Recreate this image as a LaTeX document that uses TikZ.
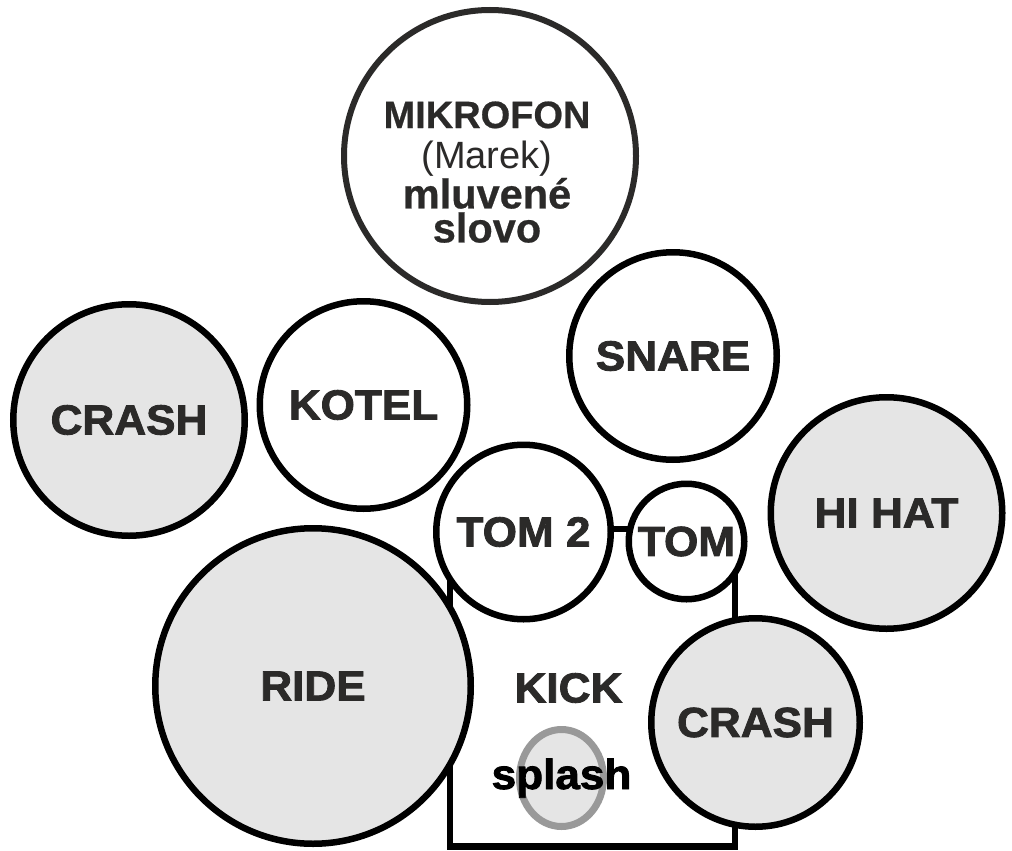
\documentclass[tikz,border=0pt]{standalone}
\usepackage{fontspec}
\usetikzlibrary{shapes.geometric}
\setmainfont{Liberation Sans}
\newfontfamily\heavy[FakeStretch=1.05,FakeBold=2]{Liberation Sans Bold}
\newfontfamily\plainsans{Liberation Sans}
\newfontfamily\boldsans[FakeBold=0.6]{Liberation Sans Bold}
\definecolor{ink}{HTML}{2B2A29}
\definecolor{cym}{HTML}{E5E5E5}
\definecolor{ringgray}{HTML}{999999}
\begin{document}
\begin{tikzpicture}[x=1pt,y=-1pt,
  drum/.style={circle, draw=black, line width=6.5pt, fill=white, inner sep=0pt,
    text=ink, font=\heavy\fontsize{42}{50}\selectfont},
  cymbal/.style={drum, fill=cym},
  lbl/.style={text=ink, font=\heavy\fontsize{42}{50}\selectfont, inner sep=0pt},
  miktext/.style={text=ink, inner sep=0pt, anchor=base}]
\useasboundingbox (0,0) rectangle (1012,851);
\fill[white] (0,0) rectangle (1012,851);
% kick drum frame
\coordinate (kTL) at (450,529);
\coordinate (kBR) at (735,846.5);
\draw[line width=6.5pt, fill=white] (kTL) rectangle (kBR);
\node[ellipse, draw=ringgray, line width=7pt, fill=cym, minimum width=84pt,
  minimum height=97pt, inner sep=0pt] (splashring) at (561.5,778) {};
% microphone
\node[circle, draw=ink, line width=6pt, fill=white, minimum size=292pt, inner sep=0pt] (mik) at (490,156) {};
\node[miktext, font=\boldsans\fontsize{38}{40}\selectfont] (mikA) at (487,128) {MIKROFON};
\node[miktext, font=\plainsans\fontsize{38}{40}\selectfont] (mikB) at (487,168) {(Marek)};
\node[miktext, anchor=south, align=center, font=\boldsans\fontsize{41.5}{34}\selectfont] (mikC) at (487,243) {mluvené\\slovo};
% drums and cymbals
\node[drum, minimum size=207.5pt] (snare) at (673,356) {SNARE};
\node[cymbal, minimum size=231.5pt] (crashL) at (129,420) {CRASH};
\node[drum, minimum size=207.5pt] (kotel) at (363.5,405) {KOTEL};
\node[drum, minimum size=174.5pt] (tom2) at (523.5,532) {TOM 2};
\node[drum, minimum size=115.5pt] (tom) at (686.5,541.5) {TOM};
\node[cymbal, minimum size=231.5pt] (hihat) at (886.5,513) {HI HAT};
\node[cymbal, minimum size=315.5pt] (ride) at (313,686) {RIDE};
\node[cymbal, minimum size=208.5pt] (crashR) at (755.5,722.5) {CRASH};
% labels on the kick area
\node[lbl] (kick) at (568.5,688) {KICK};
\node[lbl, text=black, anchor=base] (splash) at (561.5,789) {splash};
\end{tikzpicture}
\end{document}
